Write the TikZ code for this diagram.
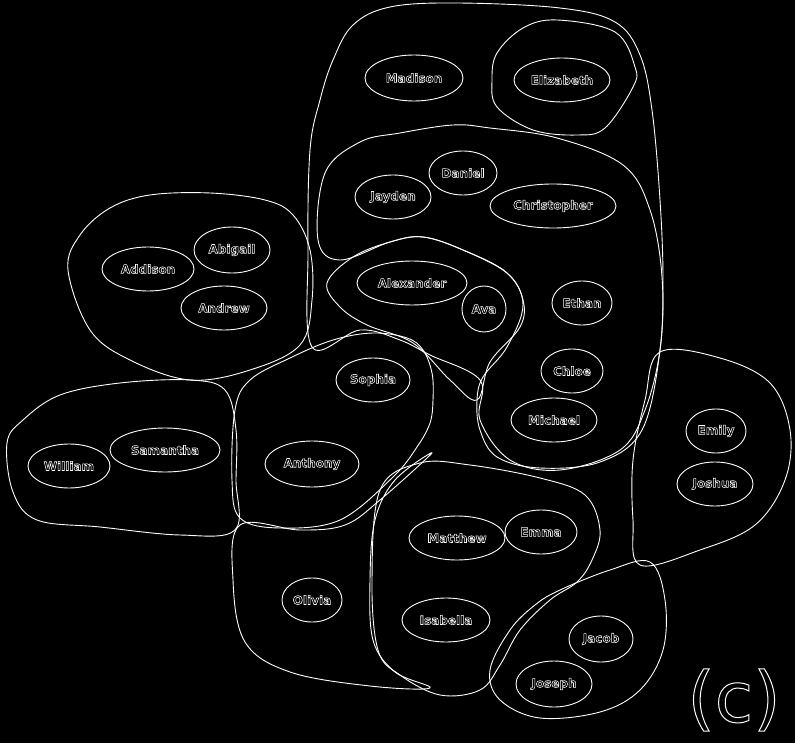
\documentclass[tikz,border=0pt]{standalone}
\usepackage{fontspec}
\setmainfont{DejaVu Sans}
% stroked (hollow) lettering via the PDF text rendering mode
\newcommand{\hollow}[2][0.6]{\special{pdf:literal 1 Tr #1 w}#2\special{pdf:literal 0 Tr}}
\begin{document}
\begin{tikzpicture}[x=1pt,y=-1pt,
  outline/.style={draw=white,line width=0.9pt},
  lbl/.style={font=\fontsize{12}{14}\selectfont\bfseries,text=white}]
\fill[black] (0,0) rectangle (795,743);
\useasboundingbox (0,0) rectangle (795,743);

% set outlines
\draw[outline] plot[smooth cycle,tension=0.6] coordinates {(333,60) (353,25) (390,7) (457,3) (560,8) (615,22) (640,55) (652,110) (660,200) (663,280) (660,350) (645,410) (620,450) (560,470) (510,460) (480,420) (480,380) (430,355) (400,340) (360,330) (312,347) (308,250) (310,150) (320,100)};
\draw[outline] plot[smooth cycle,tension=0.6] coordinates {(497,53) (523,28) (557,20) (615,32) (635,67) (633,87) (605,128) (577,135) (533,130) (497,107) (492,80)};
\draw[outline] plot[smooth cycle,tension=0.6] coordinates {(325,173) (360,142) (400,133) (453,125) (490,128) (557,138) (623,165) (650,210) (662,277) (660,350) (642,430) (600,462) (540,468) (497,457) (480,430) (477,400) (483,377) (507,347) (523,305) (507,273) (463,250) (423,237) (390,242) (340,260) (318,240)};
\draw[outline] plot[smooth cycle,tension=0.6] coordinates {(327,283) (353,257) (390,242) (423,237) (463,250) (507,273) (523,300) (520,327) (490,362) (477,400) (450,380) (413,343) (367,325) (340,307)};
\draw[outline] plot[smooth cycle,tension=0.6] coordinates {(68,270) (80,235) (110,208) (150,195) (210,193) (265,200) (293,215) (310,250) (312,300) (300,345) (250,370) (190,380) (130,360) (90,330)};
\draw[outline] plot[smooth cycle,tension=0.6] coordinates {(7,443) (23,420) (60,395) (120,383) (190,380) (225,390) (236,430) (236,480) (235,530) (180,535) (100,527) (37,520) (13,492)};
\draw[outline] plot[smooth cycle,tension=0.6] coordinates {(290,358) (333,340) (373,333) (407,338) (423,350) (432,373) (433,400) (430,423) (417,447) (393,477) (340,520) (280,528) (240,518) (232,480) (235,410) (250,380)};
\draw[outline] plot[smooth cycle,tension=0.6] coordinates {(240,525) (300,530) (345,525) (380,500) (432,453) (395,480) (375,520) (370,580) (373,640) (395,672) (430,688) (370,686) (290,672) (245,642) (233,580)};
\draw[outline] plot[smooth cycle,tension=0.6] coordinates {(380,490) (420,463) (470,465) (540,478) (585,495) (600,530) (592,560) (577,582) (550,600) (520,630) (500,665) (480,690) (440,695) (400,675) (378,650) (372,580)};
\draw[outline] plot[smooth cycle,tension=0.6] coordinates {(560,590) (610,570) (650,562) (665,600) (663,650) (640,690) (600,712) (540,718) (500,700) (490,670) (510,630) (535,605)};
\draw[outline] plot[smooth cycle,tension=0.6] coordinates {(660,352) (720,358) (770,383) (790,430) (785,480) (755,525) (700,550) (640,565) (633,520) (633,460) (645,400)};

% people
\foreach \n/\x/\y/\rx/\ry/\t in {
  madison/414/78/49/23/Madison, elizabeth/562/80/48/22/Elizabeth,
  addison/148/269/46/22/Addison, abigail/232/250/38/23/Abigail,
  andrew/224/308/43/22/Andrew, william/69/466/41/22/William,
  samantha/165/450/55/22/Samantha, alexander/412/283/55/22/Alexander,
  ava/484/309/22/23/Ava, jayden/393/197/38/22/Jayden,
  daniel/463/173/34/22/Daniel, christopher/553/206/63/22/Christopher,
  ethan/582/303/30/22/Ethan, chloe/572/371/31/22/Chloe,
  michael/554/420/43/22/Michael, sophia/373/380/37/22/Sophia,
  anthony/312/464/47/23/Anthony, emily/716/431/30/22/Emily,
  joshua/715/484/38/22/Joshua, matthew/457/538/48/22/Matthew,
  emma/541/532/36/22/Emma, olivia/312/600/30/22/Olivia,
  isabella/446/620/44/22/Isabella, jacob/601/639/32/23/Jacob,
  joseph/554/684/38/23/Joseph} {
  \draw[white,line width=0.9pt] (\x,\y) ellipse [x radius=\rx, y radius=\ry];
  \node[lbl] (\n) at (\x,\y) {\hollow[0.55]{\t}};
}

\node[font=\fontsize{70}{72}\selectfont,text=white] (tag) at (734,700) {\hollow[1]{(c)}};
\end{tikzpicture}
\end{document}
